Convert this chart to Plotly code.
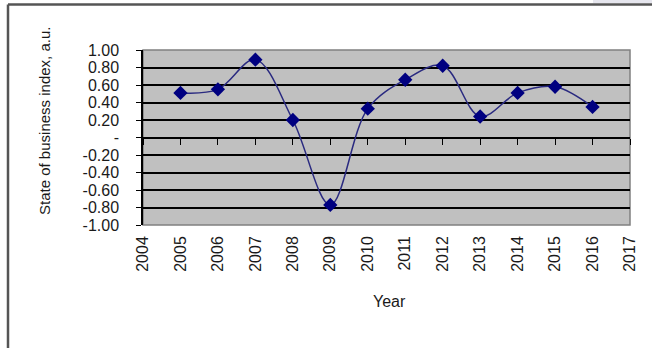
import plotly.graph_objects as go

years = [2005, 2006, 2007, 2008, 2009, 2010, 2011, 2012, 2013, 2014, 2015, 2016]
index_values = [0.51, 0.55, 0.89, 0.20, -0.77, 0.33, 0.66, 0.82, 0.24, 0.51, 0.58, 0.35]
x_ticks = list(range(2004, 2018))
y_ticks = [1.0, 0.8, 0.6, 0.4, 0.2, 0.0, -0.2, -0.4, -0.6, -0.8, -1.0]
y_ticktext = ["1.00", "0.80", "0.60", "0.40", "0.20", "-", "-0.20", "-0.40", "-0.60", "-0.80", "-1.00"]

W, H = 652, 348
L, R, T, B = 143, 630, 50, 225
font = "Liberation Sans, Arial, sans-serif"

fig = go.Figure()
fig.add_trace(go.Scatter(
    x=years, y=index_values, mode="lines+markers",
    line=dict(color="#2a2a80", width=1.5, shape="spline", smoothing=1.0),
    marker=dict(symbol="diamond", size=11, color="#000080"),
    showlegend=False, hoverinfo="skip",
))
# invisible trace on the overlay axis so its ticks render
fig.add_trace(go.Scatter(x=[x_ticks[0], x_ticks[-1]], y=[0, 0], xaxis="x2", mode="lines",
                         line=dict(width=0), showlegend=False, hoverinfo="skip"))

fig.update_layout(
    width=W, height=H,
    margin=dict(l=L, r=W - R, t=T, b=H - B, pad=0),
    paper_bgcolor="white", plot_bgcolor="#c0c0c0",
    font=dict(family=font, size=16, color="#1a1a1a"),
    xaxis=dict(range=[x_ticks[0], x_ticks[-1]], tickmode="array", tickvals=x_ticks,
               ticktext=[str(v) for v in x_ticks], tickangle=-90, ticks="",
               showgrid=False, zeroline=False, showline=False, ticklabelstandoff=7,
               tickfont=dict(size=16)),
    xaxis2=dict(range=[x_ticks[0], x_ticks[-1]], overlaying="x", anchor="free", position=0.5,
                side="bottom", tickmode="array", tickvals=x_ticks, ticks="outside",
                ticklen=6, tickcolor="black", tickwidth=1, showticklabels=False,
                showgrid=False, zeroline=False, showline=False),
    yaxis=dict(range=[-1, 1], tickmode="array", tickvals=y_ticks, ticktext=y_ticktext,
               ticks="outside", ticklen=5, tickcolor="black", showline=True,
               linecolor="black", linewidth=1.5, showgrid=True, gridcolor="black",
               gridwidth=1.5, zeroline=False, ticklabelstandoff=14,
               tickfont=dict(size=16)),
    shapes=[
        dict(type="rect", xref="paper", yref="paper", x0=0, x1=1, y0=0, y1=1,
             line=dict(color="#808080", width=1.5), layer="below"),
        dict(type="line", xref="paper", yref="paper",
             x0=(8 - L) / (R - L), x1=(W - L) / (R - L) + 0.01,
             y0=(B - 4.5) / (B - T), y1=(B - 4.5) / (B - T),
             line=dict(color="#555555", width=2.5)),
        dict(type="line", xref="paper", yref="paper",
             x0=(8 - L) / (R - L), x1=(8 - L) / (R - L),
             y0=(B - 4.5) / (B - T), y1=(B - H - 5) / (B - T),
             line=dict(color="#555555", width=2.5)),
        dict(type="rect", xref="paper", yref="paper",
             x0=(593 - L) / (R - L), x1=(W - L) / (R - L) + 0.01,
             y0=(B - 3) / (B - T), y1=(B + 1) / (B - T),
             line=dict(width=0), fillcolor="#e6e6ee"),
    ],
    annotations=[
        dict(text="State of business index, a.u.", xref="paper", yref="paper",
             x=(44 - L) / (R - L), y=(B - 121) / (B - T), textangle=-90,
             showarrow=False, font=dict(size=15), xanchor="center", yanchor="middle"),
        dict(text="Year", xref="paper", yref="paper",
             x=(389 - L) / (R - L), y=(B - 301) / (B - T),
             showarrow=False, font=dict(size=16), xanchor="center", yanchor="middle"),
    ],
)

fig.write_html("out.html")
